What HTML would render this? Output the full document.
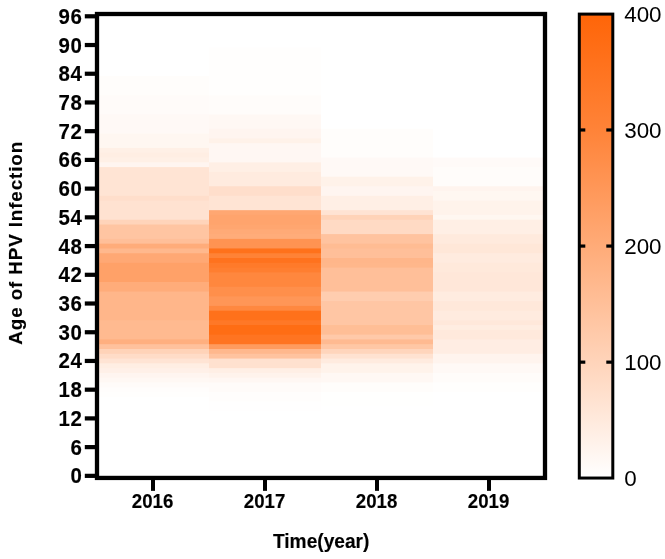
<!DOCTYPE html>
<html lang="en">
<head>
<meta charset="utf-8">
<title>Age of HPV Infection heatmap</title>
<style>
html,body{margin:0;padding:0;background:#fff;}
body{width:665px;height:559px;overflow:hidden;font-family:"Liberation Sans",sans-serif;}
svg{display:block;}
.b{font-family:"Liberation Sans",sans-serif;font-weight:700;fill:#000;}
.r{font-family:"Liberation Sans",sans-serif;font-weight:400;fill:#000;}
</style>
</head>
<body>
<svg width="665" height="559" viewBox="0 0 665 559">
<defs>
<linearGradient id="cb" x1="0" y1="1" x2="0" y2="0">
<stop offset="0" stop-color="#FFFFFF"/>
<stop offset="0.25" stop-color="#FFD4BA"/>
<stop offset="0.5" stop-color="#FFAB78"/>
<stop offset="0.75" stop-color="#FF8338"/>
<stop offset="1" stop-color="#FF6508"/>
</linearGradient>
</defs>
<rect x="0" y="0" width="665" height="559" fill="#FFFFFF"/>

<g>
<rect x="97.00" y="13.90" width="448.00" height="464.34" fill="#FFFFFF"/>
<rect x="97.00" y="76.13" width="448.00" height="402.11" fill="#FFFDFB"/>
<rect x="97.00" y="95.28" width="448.00" height="382.96" fill="#FFFBF9"/>
<rect x="97.00" y="114.43" width="448.00" height="363.81" fill="#FFF9F6"/>
<rect x="97.00" y="133.57" width="448.00" height="344.66" fill="#FFF7F1"/>
<rect x="97.00" y="147.94" width="448.00" height="330.30" fill="#FFF0E6"/>
<rect x="97.00" y="152.72" width="448.00" height="325.52" fill="#FFEEE3"/>
<rect x="97.00" y="157.51" width="448.00" height="320.73" fill="#FFF0E6"/>
<rect x="97.00" y="162.30" width="448.00" height="315.94" fill="#FFF5F0"/>
<rect x="97.00" y="167.08" width="448.00" height="311.15" fill="#FFE4D4"/>
<rect x="97.00" y="195.81" width="448.00" height="282.43" fill="#FFDECB"/>
<rect x="97.00" y="200.59" width="448.00" height="277.65" fill="#FFE2D1"/>
<rect x="97.00" y="219.74" width="448.00" height="258.50" fill="#FFD4BA"/>
<rect x="97.00" y="224.53" width="448.00" height="253.71" fill="#FFC5A2"/>
<rect x="97.00" y="238.89" width="448.00" height="239.35" fill="#FFBF99"/>
<rect x="97.00" y="243.68" width="448.00" height="234.56" fill="#FFAC7A"/>
<rect x="97.00" y="248.46" width="448.00" height="229.78" fill="#FFB88D"/>
<rect x="97.00" y="253.25" width="448.00" height="224.99" fill="#FFA874"/>
<rect x="97.00" y="262.82" width="448.00" height="215.41" fill="#FFA168"/>
<rect x="97.00" y="281.97" width="448.00" height="196.27" fill="#FFAC7A"/>
<rect x="97.00" y="291.55" width="448.00" height="186.69" fill="#FFB68A"/>
<rect x="97.00" y="320.27" width="448.00" height="157.97" fill="#FFBA90"/>
<rect x="97.00" y="339.42" width="448.00" height="138.82" fill="#FFAF7F"/>
<rect x="97.00" y="344.20" width="448.00" height="134.04" fill="#FFC19C"/>
<rect x="97.00" y="348.99" width="448.00" height="129.25" fill="#FFD3B8"/>
<rect x="97.00" y="353.78" width="448.00" height="124.46" fill="#FFDCC7"/>
<rect x="97.00" y="358.56" width="448.00" height="119.68" fill="#FFE4D4"/>
<rect x="97.00" y="363.35" width="448.00" height="114.89" fill="#FFEEE3"/>
<rect x="97.00" y="368.14" width="448.00" height="110.10" fill="#FFF0E8"/>
<rect x="97.00" y="372.92" width="448.00" height="105.31" fill="#FFF5F0"/>
<rect x="97.00" y="377.71" width="448.00" height="100.53" fill="#FFF8F4"/>
<rect x="97.00" y="382.50" width="448.00" height="95.74" fill="#FFFBF9"/>
<rect x="97.00" y="387.29" width="448.00" height="90.95" fill="#FFFDFC"/>
<rect x="97.00" y="392.07" width="448.00" height="86.17" fill="#FFFEFD"/>
<rect x="97.00" y="396.86" width="448.00" height="81.38" fill="#FFFFFF"/>
<rect x="209.00" y="13.90" width="336.00" height="464.34" fill="#FFFFFF"/>
<rect x="209.00" y="47.41" width="336.00" height="430.83" fill="#FFFEFD"/>
<rect x="209.00" y="95.28" width="336.00" height="382.96" fill="#FFFCFA"/>
<rect x="209.00" y="114.43" width="336.00" height="363.81" fill="#FFF8F4"/>
<rect x="209.00" y="128.79" width="336.00" height="349.45" fill="#FFF5F0"/>
<rect x="209.00" y="138.36" width="336.00" height="339.88" fill="#FFF2E9"/>
<rect x="209.00" y="143.15" width="336.00" height="335.09" fill="#FFF7F3"/>
<rect x="209.00" y="162.30" width="336.00" height="315.94" fill="#FFEFE5"/>
<rect x="209.00" y="171.87" width="336.00" height="306.37" fill="#FFEBDF"/>
<rect x="209.00" y="186.23" width="336.00" height="292.01" fill="#FFDECB"/>
<rect x="209.00" y="195.81" width="336.00" height="282.43" fill="#FFE4D4"/>
<rect x="209.00" y="210.17" width="336.00" height="268.07" fill="#FFA772"/>
<rect x="209.00" y="214.95" width="336.00" height="263.28" fill="#FFA46D"/>
<rect x="209.00" y="224.53" width="336.00" height="253.71" fill="#FFA670"/>
<rect x="209.00" y="229.31" width="336.00" height="248.92" fill="#FFAA77"/>
<rect x="209.00" y="234.10" width="336.00" height="244.14" fill="#FFAC7A"/>
<rect x="209.00" y="238.89" width="336.00" height="239.35" fill="#FF9352"/>
<rect x="209.00" y="248.46" width="336.00" height="229.78" fill="#FF711B"/>
<rect x="209.00" y="253.25" width="336.00" height="224.99" fill="#FF8236"/>
<rect x="209.00" y="258.04" width="336.00" height="220.20" fill="#FF721E"/>
<rect x="209.00" y="262.82" width="336.00" height="215.41" fill="#FF7A2A"/>
<rect x="209.00" y="267.61" width="336.00" height="210.63" fill="#FF7E30"/>
<rect x="209.00" y="272.40" width="336.00" height="205.84" fill="#FF873E"/>
<rect x="209.00" y="286.76" width="336.00" height="191.48" fill="#FF8F4B"/>
<rect x="209.00" y="296.33" width="336.00" height="181.91" fill="#FF9657"/>
<rect x="209.00" y="305.91" width="336.00" height="172.33" fill="#FF8840"/>
<rect x="209.00" y="310.69" width="336.00" height="167.55" fill="#FF711B"/>
<rect x="209.00" y="320.27" width="336.00" height="157.97" fill="#FF7827"/>
<rect x="209.00" y="325.05" width="336.00" height="153.18" fill="#FF6D14"/>
<rect x="209.00" y="334.63" width="336.00" height="143.61" fill="#FF7421"/>
<rect x="209.00" y="344.20" width="336.00" height="134.04" fill="#FF9B5E"/>
<rect x="209.00" y="348.99" width="336.00" height="129.25" fill="#FFB88D"/>
<rect x="209.00" y="353.78" width="336.00" height="124.46" fill="#FFC39F"/>
<rect x="209.00" y="358.56" width="336.00" height="119.68" fill="#FFE1CF"/>
<rect x="209.00" y="368.14" width="336.00" height="110.10" fill="#FFEFE5"/>
<rect x="209.00" y="372.92" width="336.00" height="105.31" fill="#FFF3EC"/>
<rect x="209.00" y="377.71" width="336.00" height="100.53" fill="#FFF7F3"/>
<rect x="209.00" y="382.50" width="336.00" height="95.74" fill="#FFFBF9"/>
<rect x="209.00" y="392.07" width="336.00" height="86.17" fill="#FFFDFC"/>
<rect x="209.00" y="401.65" width="336.00" height="76.59" fill="#FFFEFE"/>
<rect x="209.00" y="411.22" width="336.00" height="67.02" fill="#FFFFFF"/>
<rect x="321.00" y="13.90" width="224.00" height="464.34" fill="#FFFFFF"/>
<rect x="321.00" y="128.79" width="224.00" height="349.45" fill="#FFFDFB"/>
<rect x="321.00" y="157.51" width="224.00" height="320.73" fill="#FFF9F6"/>
<rect x="321.00" y="176.66" width="224.00" height="301.58" fill="#FFF2E9"/>
<rect x="321.00" y="186.23" width="224.00" height="292.01" fill="#FFF5F0"/>
<rect x="321.00" y="195.81" width="224.00" height="282.43" fill="#FFEFE5"/>
<rect x="321.00" y="210.17" width="224.00" height="268.07" fill="#FFE3D3"/>
<rect x="321.00" y="214.95" width="224.00" height="263.28" fill="#FFD3B8"/>
<rect x="321.00" y="219.74" width="224.00" height="258.50" fill="#FFDAC4"/>
<rect x="321.00" y="234.10" width="224.00" height="244.14" fill="#FFC39F"/>
<rect x="321.00" y="243.68" width="224.00" height="234.56" fill="#FFBC93"/>
<rect x="321.00" y="248.46" width="224.00" height="229.78" fill="#FFBF99"/>
<rect x="321.00" y="258.04" width="224.00" height="220.20" fill="#FFB68A"/>
<rect x="321.00" y="262.82" width="224.00" height="215.41" fill="#FFB78B"/>
<rect x="321.00" y="267.61" width="224.00" height="210.63" fill="#FFBF99"/>
<rect x="321.00" y="291.55" width="224.00" height="186.69" fill="#FFCDAF"/>
<rect x="321.00" y="301.12" width="224.00" height="177.12" fill="#FFC6A4"/>
<rect x="321.00" y="325.05" width="224.00" height="153.18" fill="#FFBE96"/>
<rect x="321.00" y="334.63" width="224.00" height="143.61" fill="#FFC9A9"/>
<rect x="321.00" y="339.42" width="224.00" height="138.82" fill="#FFBA91"/>
<rect x="321.00" y="344.20" width="224.00" height="134.04" fill="#FFC7A5"/>
<rect x="321.00" y="348.99" width="224.00" height="129.25" fill="#FFD5BC"/>
<rect x="321.00" y="353.78" width="224.00" height="124.46" fill="#FFE2D1"/>
<rect x="321.00" y="358.56" width="224.00" height="119.68" fill="#FFEBDF"/>
<rect x="321.00" y="363.35" width="224.00" height="114.89" fill="#FFF3EB"/>
<rect x="321.00" y="372.92" width="224.00" height="105.31" fill="#FFF8F4"/>
<rect x="321.00" y="382.50" width="224.00" height="95.74" fill="#FFFDFB"/>
<rect x="321.00" y="392.07" width="224.00" height="86.17" fill="#FFFFFE"/>
<rect x="321.00" y="406.43" width="224.00" height="71.81" fill="#FFFFFF"/>
<rect x="433.00" y="13.90" width="112.00" height="464.34" fill="#FFFFFF"/>
<rect x="433.00" y="157.51" width="112.00" height="320.73" fill="#FFFAF8"/>
<rect x="433.00" y="167.08" width="112.00" height="311.15" fill="#FFFCFA"/>
<rect x="433.00" y="186.23" width="112.00" height="292.01" fill="#FFF4EE"/>
<rect x="433.00" y="191.02" width="112.00" height="287.22" fill="#FFF7F1"/>
<rect x="433.00" y="200.59" width="112.00" height="277.65" fill="#FFF3EB"/>
<rect x="433.00" y="214.95" width="112.00" height="263.28" fill="#FFF7F1"/>
<rect x="433.00" y="219.74" width="112.00" height="258.50" fill="#FFEFE5"/>
<rect x="433.00" y="234.10" width="112.00" height="244.14" fill="#FFEADD"/>
<rect x="433.00" y="243.68" width="112.00" height="234.56" fill="#FFE7D8"/>
<rect x="433.00" y="253.25" width="112.00" height="224.99" fill="#FFEBDF"/>
<rect x="433.00" y="262.82" width="112.00" height="215.41" fill="#FFE9DB"/>
<rect x="433.00" y="272.40" width="112.00" height="205.84" fill="#FFE7D9"/>
<rect x="433.00" y="291.55" width="112.00" height="186.69" fill="#FFECE0"/>
<rect x="433.00" y="301.12" width="112.00" height="177.12" fill="#FFE8DA"/>
<rect x="433.00" y="310.69" width="112.00" height="167.55" fill="#FFEBDF"/>
<rect x="433.00" y="320.27" width="112.00" height="157.97" fill="#FFE8DA"/>
<rect x="433.00" y="325.05" width="112.00" height="153.18" fill="#FFEDE1"/>
<rect x="433.00" y="329.84" width="112.00" height="148.40" fill="#FFE9DC"/>
<rect x="433.00" y="339.42" width="112.00" height="138.82" fill="#FFEDE3"/>
<rect x="433.00" y="353.78" width="112.00" height="124.46" fill="#FFF4EE"/>
<rect x="433.00" y="363.35" width="112.00" height="114.89" fill="#FFF9F6"/>
<rect x="433.00" y="372.92" width="112.00" height="105.31" fill="#FFFCFA"/>
<rect x="433.00" y="382.50" width="112.00" height="95.74" fill="#FFFEFD"/>
<rect x="433.00" y="392.07" width="112.00" height="86.17" fill="#FFFFFF"/>
</g>
<rect x="97.00" y="14.00" width="448.00" height="463.94" fill="none" stroke="#000" stroke-width="4.3"/>
<rect x="84.8" y="473.75" width="11" height="4.2" fill="#000"/>
<text class="b" transform="translate(82.3,483.35) scale(0.96,1)" font-size="21.3" text-anchor="end" letter-spacing="0.5" stroke="#000" stroke-width="0.15">0</text>
<rect x="84.8" y="445.02" width="11" height="4.2" fill="#000"/>
<text class="b" transform="translate(82.3,454.62) scale(0.96,1)" font-size="21.3" text-anchor="end" letter-spacing="0.5" stroke="#000" stroke-width="0.15">6</text>
<rect x="84.8" y="416.30" width="11" height="4.2" fill="#000"/>
<text class="b" transform="translate(82.3,425.90) scale(0.96,1)" font-size="21.3" text-anchor="end" letter-spacing="0.5" stroke="#000" stroke-width="0.15">12</text>
<rect x="84.8" y="387.58" width="11" height="4.2" fill="#000"/>
<text class="b" transform="translate(82.3,397.18) scale(0.96,1)" font-size="21.3" text-anchor="end" letter-spacing="0.5" stroke="#000" stroke-width="0.15">18</text>
<rect x="84.8" y="358.86" width="11" height="4.2" fill="#000"/>
<text class="b" transform="translate(82.3,368.46) scale(0.96,1)" font-size="21.3" text-anchor="end" letter-spacing="0.5" stroke="#000" stroke-width="0.15">24</text>
<rect x="84.8" y="330.14" width="11" height="4.2" fill="#000"/>
<text class="b" transform="translate(82.3,339.74) scale(0.96,1)" font-size="21.3" text-anchor="end" letter-spacing="0.5" stroke="#000" stroke-width="0.15">30</text>
<rect x="84.8" y="301.41" width="11" height="4.2" fill="#000"/>
<text class="b" transform="translate(82.3,311.01) scale(0.96,1)" font-size="21.3" text-anchor="end" letter-spacing="0.5" stroke="#000" stroke-width="0.15">36</text>
<rect x="84.8" y="272.69" width="11" height="4.2" fill="#000"/>
<text class="b" transform="translate(82.3,282.29) scale(0.96,1)" font-size="21.3" text-anchor="end" letter-spacing="0.5" stroke="#000" stroke-width="0.15">42</text>
<rect x="84.8" y="243.97" width="11" height="4.2" fill="#000"/>
<text class="b" transform="translate(82.3,253.57) scale(0.96,1)" font-size="21.3" text-anchor="end" letter-spacing="0.5" stroke="#000" stroke-width="0.15">48</text>
<rect x="84.8" y="215.25" width="11" height="4.2" fill="#000"/>
<text class="b" transform="translate(82.3,224.85) scale(0.96,1)" font-size="21.3" text-anchor="end" letter-spacing="0.5" stroke="#000" stroke-width="0.15">54</text>
<rect x="84.8" y="186.53" width="11" height="4.2" fill="#000"/>
<text class="b" transform="translate(82.3,196.13) scale(0.96,1)" font-size="21.3" text-anchor="end" letter-spacing="0.5" stroke="#000" stroke-width="0.15">60</text>
<rect x="84.8" y="157.80" width="11" height="4.2" fill="#000"/>
<text class="b" transform="translate(82.3,167.40) scale(0.96,1)" font-size="21.3" text-anchor="end" letter-spacing="0.5" stroke="#000" stroke-width="0.15">66</text>
<rect x="84.8" y="129.08" width="11" height="4.2" fill="#000"/>
<text class="b" transform="translate(82.3,138.68) scale(0.96,1)" font-size="21.3" text-anchor="end" letter-spacing="0.5" stroke="#000" stroke-width="0.15">72</text>
<rect x="84.8" y="100.36" width="11" height="4.2" fill="#000"/>
<text class="b" transform="translate(82.3,109.96) scale(0.96,1)" font-size="21.3" text-anchor="end" letter-spacing="0.5" stroke="#000" stroke-width="0.15">78</text>
<rect x="84.8" y="71.64" width="11" height="4.2" fill="#000"/>
<text class="b" transform="translate(82.3,81.24) scale(0.96,1)" font-size="21.3" text-anchor="end" letter-spacing="0.5" stroke="#000" stroke-width="0.15">84</text>
<rect x="84.8" y="42.92" width="11" height="4.2" fill="#000"/>
<text class="b" transform="translate(82.3,52.52) scale(0.96,1)" font-size="21.3" text-anchor="end" letter-spacing="0.5" stroke="#000" stroke-width="0.15">90</text>
<rect x="84.8" y="14.19" width="11" height="4.2" fill="#000"/>
<text class="b" transform="translate(82.3,23.79) scale(0.96,1)" font-size="21.3" text-anchor="end" letter-spacing="0.5" stroke="#000" stroke-width="0.15">96</text>
<rect x="151.00" y="478.24" width="4" height="12.6" fill="#000"/>
<text class="b" transform="translate(152.60,508.4) scale(0.91,1)" font-size="20.5" text-anchor="middle" stroke="#000" stroke-width="0.15">2016</text>
<rect x="263.00" y="478.24" width="4" height="12.6" fill="#000"/>
<text class="b" transform="translate(264.60,508.4) scale(0.91,1)" font-size="20.5" text-anchor="middle" stroke="#000" stroke-width="0.15">2017</text>
<rect x="375.00" y="478.24" width="4" height="12.6" fill="#000"/>
<text class="b" transform="translate(376.60,508.4) scale(0.91,1)" font-size="20.5" text-anchor="middle" stroke="#000" stroke-width="0.15">2018</text>
<rect x="487.00" y="478.24" width="4" height="12.6" fill="#000"/>
<text class="b" transform="translate(488.60,508.4) scale(0.91,1)" font-size="20.5" text-anchor="middle" stroke="#000" stroke-width="0.15">2019</text>
<text class="b" transform="translate(321.2,548.2) scale(0.935,1)" font-size="20.5" text-anchor="middle" stroke="#000" stroke-width="0.15">Time(year)</text>
<text class="b" transform="translate(22.2,242.8) rotate(-90)" font-size="18.8" text-anchor="middle" letter-spacing="0.9" stroke="#000" stroke-width="0.15">Age of HPV Infection</text>
<rect x="579.3" y="14.10" width="33.5" height="463.94" fill="url(#cb)" stroke="#000" stroke-width="3"/>
<rect x="580" y="360.55" width="5.3" height="3.2" fill="#000"/>
<rect x="606.3" y="360.55" width="5.7" height="3.2" fill="#000"/>
<rect x="580" y="244.47" width="5.3" height="3.2" fill="#000"/>
<rect x="606.3" y="244.47" width="5.7" height="3.2" fill="#000"/>
<rect x="580" y="128.38" width="5.3" height="3.2" fill="#000"/>
<rect x="606.3" y="128.38" width="5.7" height="3.2" fill="#000"/>
<text class="r" x="624.2" y="485.94" font-size="22.4">0</text>
<text class="r" x="624.2" y="369.85" font-size="22.4">100</text>
<text class="r" x="624.2" y="253.77" font-size="22.4">200</text>
<text class="r" x="624.2" y="137.68" font-size="22.4">300</text>
<text class="r" x="624.2" y="21.60" font-size="22.4">400</text>
</svg>
</body>
</html>
